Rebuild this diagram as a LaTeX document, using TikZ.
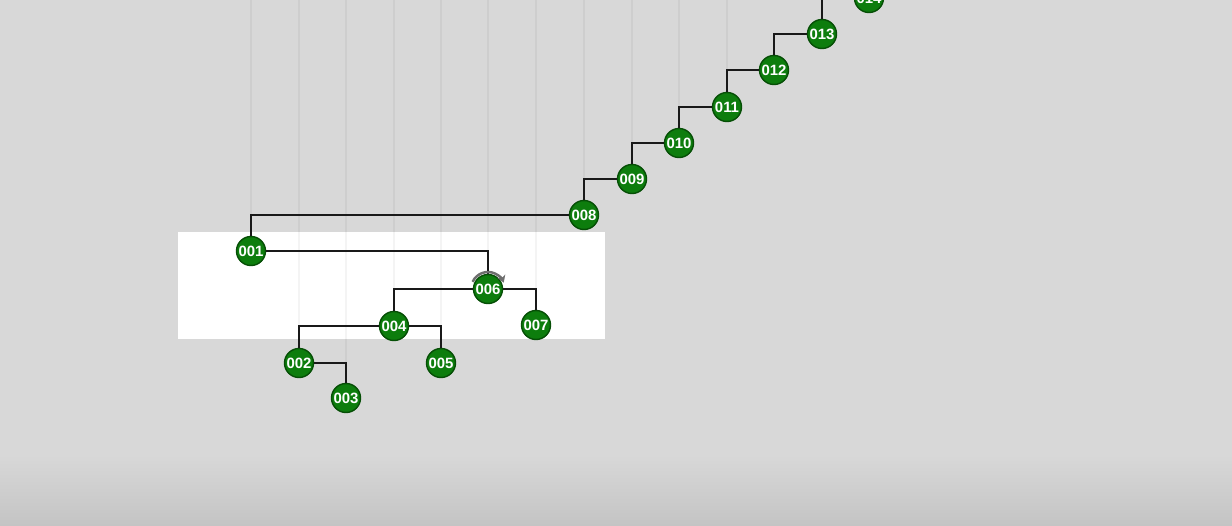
\documentclass[tikz,border=0pt]{standalone}
\usepackage{fontspec}
\newfontfamily\ballfont{Liberation Sans}
\usepackage{xcolor}
\usepackage{tikz}
\usetikzlibrary{positioning, arrows.meta}

\definecolor{canvasgray}{HTML}{D8D8D8}
\definecolor{canvasdark}{HTML}{C4C4C4}
\definecolor{ballgreen}{HTML}{0D7D0D}
\definecolor{ballrim}{HTML}{064F06}
\definecolor{turngray}{HTML}{6E6E6E}

\begin{document}
\begin{tikzpicture}[
        x=0.02cm, y=-0.02cm,
        every node/.style={font=\ballfont\bfseries\fontsize{8.5}{8.5}\selectfont},
        ball/.style={circle, draw=ballrim, line width=0.8pt, fill=ballgreen, text=white, minimum size=0.58cm, inner sep=0pt},
        edge/.style={draw=black!90, line width=1.5pt},
        guide/.style={draw=black, opacity=0.045, line width=0.8pt},
        turn/.style={draw=turngray, line width=1.4pt, -{Stealth[length=4pt, width=5pt]}}
    ]

    \useasboundingbox (0,0) rectangle (1232,525);
    \clip (0,0) rectangle (1232,525);

    % Canvas
    \fill[canvasgray] (0,0) rectangle (1232,525);
    \shade[top color=canvasgray, bottom color=canvasdark] (0,455) rectangle (1232,525);
    \fill[white] (178,232) rectangle (605,339);
    \coordinate (top) at (0,0);

    % Nodes
    \node[ball] (n001) at (251,251) {001};
    \node[ball] (n002) at (299,363) {002};
    \node[ball] (n003) at (346,398) {003};
    \node[ball] (n004) at (394,326) {004};
    \node[ball] (n005) at (441,363) {005};
    \node[ball] (n006) at (488,289) {006};
    \node[ball] (n007) at (536,325) {007};
    \node[ball] (n008) at (584,215) {008};
    \node[ball] (n009) at (632,179) {009};
    \node[ball] (n010) at (679,143) {010};
    \node[ball] (n011) at (727,107) {011};
    \node[ball] (n012) at (774,70) {012};
    \node[ball] (n013) at (822,34) {013};
    \node[ball] (n014) at (869,-2) {014};

    % Guides
    \foreach \n in {001,002,003,004,005,006,007,008,009,010,011}
        \draw[guide] (n\n.north) -- (n\n.north |- top);

    % Arrows
    \draw[edge] (n008) -| (n001);
    \draw[edge] (n001) -| (n006);
    \draw[edge] (n006) -| (n004);
    \draw[edge] (n006) -| (n007);
    \draw[edge] (n004) -| (n002);
    \draw[edge] (n004) -| (n005);
    \draw[edge] (n002) -| (n003);
    \draw[edge] (n009) -| (n008);
    \draw[edge] (n010) -| (n009);
    \draw[edge] (n011) -| (n010);
    \draw[edge] (n012) -| (n011);
    \draw[edge] (n013) -| (n012);
    \draw[edge] (n014) -| (n013);

    \draw[turn] ([shift={(155:0.34cm)}]n006.center) arc[start angle=155, end angle=22, radius=0.34cm];

    \end{tikzpicture}
\end{document}
